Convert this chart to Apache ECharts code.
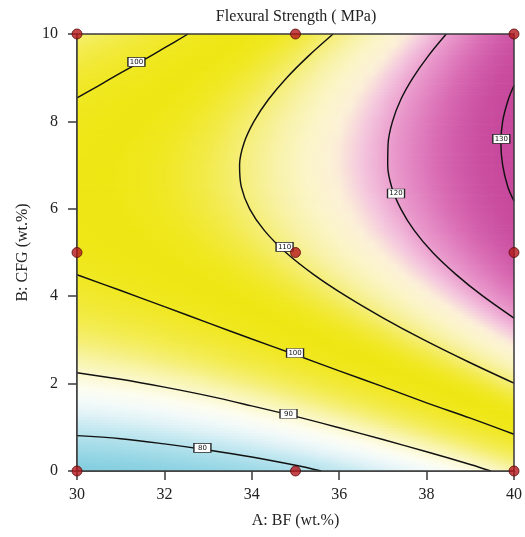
<!DOCTYPE html>
<html>
<head>
<meta charset="utf-8">
<script src="https://cdn.jsdelivr.net/npm/echarts@6/dist/echarts.min.js"></script>
<style>
html,body{margin:0;padding:0;background:#fff;}
#chart{width:525px;height:537px;}
</style>
</head>
<body>
<div id="chart"></div>
<script>
// Grid nodes (A: BF wt.%, B: CFG wt.%)
var bfValues = [30,30.5,31,31.5,32,32.5,33,33.5,34,34.5,35,35.5,36,36.5,37,37.5,38,38.5,39,39.5,40];
var cfgValues = [0,0.5,1,1.5,2,2.5,3,3.5,4,4.5,5,5.5,6,6.5,7,7.5,8,8.5,9,9.5,10];
// Flexural strength (MPa), one row per CFG value
var strengthGrid = [
[72.9,73.2,73.5,73.9,74.4,75.0,75.6,76.3,77.0,77.9,78.8,79.7,80.8,81.9,83.1,84.3,85.6,87.0,88.5,90.0,91.6],
[77.4,77.7,78.0,78.5,79.0,79.6,80.2,80.9,81.7,82.6,83.5,84.5,85.6,86.7,88.0,89.2,90.6,92.0,93.5,95.1,96.7],
[81.4,81.8,82.2,82.6,83.2,83.8,84.5,85.2,86.1,87.0,87.9,89.0,90.1,91.3,92.5,93.8,95.2,96.7,98.2,99.8,101.5],
[85.1,85.5,85.9,86.4,87.0,87.7,88.4,89.2,90.1,91.0,92.0,93.1,94.2,95.4,96.7,98.1,99.5,101.0,102.6,104.2,105.9],
[88.5,88.9,89.4,89.9,90.5,91.2,92.0,92.8,93.7,94.7,95.7,96.8,98.0,99.2,100.6,101.9,103.4,104.9,106.5,108.2,110.0],
[91.5,92.0,92.5,93.0,93.7,94.4,95.2,96.1,97.0,98.0,99.1,100.2,101.4,102.7,104.0,105.5,107.0,108.5,110.2,111.9,113.7],
[94.2,94.6,95.2,95.8,96.5,97.2,98.1,99.0,99.9,101.0,102.1,103.2,104.5,105.8,107.2,108.7,110.2,111.8,113.5,115.2,117.0],
[96.5,97.0,97.6,98.2,98.9,99.7,100.6,101.5,102.5,103.6,104.7,105.9,107.2,108.6,110.0,111.5,113.0,114.7,116.4,118.2,120.0],
[98.4,99.0,99.6,100.3,101.0,101.8,102.7,103.7,104.7,105.8,107.0,108.3,109.6,111.0,112.4,113.9,115.6,117.2,119.0,120.8,122.6],
[100.0,100.6,101.2,102.0,102.8,103.6,104.5,105.5,106.6,107.7,109.0,110.2,111.6,113.0,114.5,116.1,117.7,119.4,121.2,123.0,124.9],
[101.3,101.9,102.6,103.3,104.1,105.0,106.0,107.0,108.1,109.3,110.6,111.9,113.3,114.7,116.2,117.8,119.5,121.2,123.0,124.9,126.9],
[102.2,102.8,103.5,104.3,105.2,106.1,107.1,108.2,109.3,110.5,111.8,113.1,114.6,116.1,117.6,119.2,121.0,122.7,124.6,126.5,128.5],
[102.7,103.4,104.1,105.0,105.9,106.8,107.9,108.9,110.1,111.4,112.7,114.1,115.5,117.0,118.6,120.3,122.0,123.9,125.7,127.7,129.7],
[102.9,103.6,104.4,105.2,106.2,107.2,108.3,109.4,110.6,111.9,113.2,114.6,116.1,117.7,119.3,121.0,122.8,124.6,126.5,128.5,130.6],
[102.7,103.5,104.3,105.2,106.2,107.2,108.3,109.5,110.7,112.0,113.4,114.9,116.4,118.0,119.6,121.4,123.2,125.1,127.0,129.0,131.1],
[102.2,103.0,103.9,104.8,105.8,106.9,108.0,109.2,110.5,111.8,113.2,114.7,116.3,117.9,119.6,121.4,123.2,125.1,127.1,129.2,131.3],
[101.4,102.2,103.1,104.0,105.1,106.2,107.3,108.6,109.9,111.3,112.7,114.2,115.8,117.5,119.2,121.0,122.9,124.8,126.9,129.0,131.1],
[100.1,101.0,101.9,102.9,104.0,105.1,106.3,107.6,108.9,110.3,111.8,113.4,115.0,116.7,118.5,120.3,122.2,124.2,126.3,128.4,130.6],
[98.6,99.5,100.4,101.4,102.5,103.7,105.0,106.3,107.6,109.1,110.6,112.2,113.9,115.6,117.4,119.3,121.2,123.2,125.3,127.5,129.7],
[96.6,97.6,98.6,99.6,100.8,102.0,103.2,104.6,106.0,107.5,109.0,110.7,112.3,114.1,115.9,117.9,119.9,121.9,124.0,126.2,128.5],
[94.4,95.3,96.3,97.4,98.6,99.9,101.2,102.5,104.0,105.5,107.1,108.8,110.5,112.3,114.2,116.1,118.1,120.2,122.4,124.6,126.9]
];

// Contour lines [A, B]
var contour80  = [[30,0.81],[31,0.74],[32,0.62],[33,0.48],[34,0.32],[35,0.13],[35.59,0]];
var contour90  = [[30,2.25],[31,2.10],[32,1.92],[33,1.72],[34,1.49],[35,1.25],[36,0.99],[37,0.72],[38,0.44],[39,0.15],[39.47,0]];
var contour100Low = [[30,4.49],[31,4.13],[32,3.76],[33,3.39],[34,3.02],[35,2.66],[36,2.29],[37,1.93],[38,1.56],[39,1.21],[40,0.84]];
var contour100High = [[30,8.54],[30.5,8.82],[31,9.11],[31.5,9.39],[32,9.68],[32.54,10]];
var contour110 = [[35.86,10],[35.30,9.5],[34.80,9],[34.38,8.5],[34.05,8],[33.82,7.5],[33.72,7],[33.76,6.5],[33.95,6],[34.29,5.5],[34.78,5],[35.41,4.5],[36.16,4],[37.01,3.5],[37.94,3],[38.95,2.5],[40,2.01]];
var contour120 = [[38.45,10],[38.04,9.5],[37.69,9],[37.41,8.5],[37.22,8],[37.12,7.5],[37.11,7],[37.20,6.5],[37.41,6],[37.72,5.5],[38.14,5],[38.67,4.5],[39.29,4],[40,3.5]];
var contour130 = [[40,8.82],[39.87,8.5],[39.74,8],[39.70,7.5],[39.74,7],[39.86,6.5],[40,6.18]];

// Contour labels
var labelText = ['100','110','120','130','100','90','80'];
var labelA = [31.36,34.75,37.30,39.71,34.99,34.84,32.87];
var labelB = [9.36,5.13,6.35,7.60,2.70,1.31,0.53];

// Design points
var designA = [30,35,40,30,35,40,30,35,40];
var designB = [0,0,0,5,5,5,10,10,10];

// Colour scale (value range and colours, evenly spaced)
var scaleMin = 72, scaleMax = 136;
var scaleColors = [
  '#7ccbdd','#86cfe0','#93d5e4','#a2dbe8','#b3e2ec','#c9eaf2','#e2f3f7','#f3faf9',
  '#fdfdf0','#fbf8d0','#f8f4a8','#f5ef78','#f3ec50','#f1e935','#f0e822','#efe716',
  '#efe714','#f0e822','#f2ea45','#f5ee78','#f8f2a8','#fbf5c8','#fcf1d8','#f4c6de',
  '#eb9fce','#e284c1','#d96bb3','#d05aa8','#ca4ea0','#c7489c','#c6469b','#c5449a','#c4439a'
];

var nA = bfValues.length, nB = cfgValues.length;
var fieldData = [];
for (var j = 0; j < nB; j++) {
  for (var i = 0; i < nA; i++) {
    fieldData.push([bfValues[i], cfgValues[j], strengthGrid[j][i]]);
  }
}

function colourOf(v) {
  var t = (v - scaleMin) / (scaleMax - scaleMin);
  t = Math.max(0, Math.min(1, t));
  return echarts.color.lerp(t, scaleColors);
}

var STRIPS = 8;
function renderCell(params, api) {
  var idx = params.dataIndex;
  var i = idx % nA, j = Math.floor(idx / nA);
  if (i >= nA - 1 || j >= nB - 1) return null;
  var vBL = strengthGrid[j][i], vBR = strengthGrid[j][i + 1];
  var vTL = strengthGrid[j + 1][i], vTR = strengthGrid[j + 1][i + 1];
  var pBL = api.coord([bfValues[i], cfgValues[j]]);
  var pTR = api.coord([bfValues[i + 1], cfgValues[j + 1]]);
  var x = pBL[0], w = pTR[0] - pBL[0];
  var yBottom = pBL[1], h = pBL[1] - pTR[1];
  var children = [];
  for (var s = 0; s < STRIPS; s++) {
    var t = (s + 0.5) / STRIPS;
    var vl = vBL + (vTL - vBL) * t;
    var vr = vBR + (vTR - vBR) * t;
    var vm = (vl + vr) / 2;
    var y0 = yBottom - h * (s + 1) / STRIPS;
    children.push({
      type: 'rect',
      shape: { x: x, y: y0, width: w + 0.7, height: h / STRIPS + 0.7 },
      style: {
        fill: new echarts.graphic.LinearGradient(0, 0, 1, 0, [
          { offset: 0, color: colourOf(vl) },
          { offset: 0.5, color: colourOf(vm) },
          { offset: 1, color: colourOf(vr) }
        ]),
        stroke: null
      }
    });
  }
  return { type: 'group', children: children };
}

var labelData = labelText.map(function (t, k) { return [labelA[k], labelB[k], t]; });
var designData = designA.map(function (a, k) { return [a, designB[k]]; });

var serif = '"Liberation Serif", "DejaVu Serif", serif';

function contourSeries(data) {
  return {
    type: 'line', data: data, smooth: 0.35, showSymbol: false, symbol: 'none',
    silent: true, z: 3, clip: true,
    lineStyle: { color: '#111111', width: 1.45 }
  };
}

var chart = echarts.init(document.getElementById('chart'), null, { renderer: 'canvas' });
chart.setOption({
  animation: false,
  backgroundColor: '#ffffff',
  title: {
    text: 'Flexural Strength ( MPa)',
    left: 291, top: 4, textAlign: 'center',
    textStyle: { fontFamily: serif, fontWeight: 'normal', fontSize: 16, color: '#222' }
  },
  grid: {
    left: 77, right: 10, top: 34, bottom: 66,
    show: true, borderColor: '#3a3a3a', borderWidth: 1.5, backgroundColor: 'transparent', z: 4
  },
  xAxis: {
    type: 'value', min: 30, max: 40, interval: 2,
    name: 'A: BF (wt.%)', nameLocation: 'middle', nameGap: 42,
    nameTextStyle: { fontFamily: serif, fontSize: 16, color: '#222' },
    axisLine: { show: true, lineStyle: { color: '#3a3a3a', width: 1.5 } },
    axisTick: { show: true, inside: false, length: 9, lineStyle: { color: '#3a3a3a', width: 1.5 } },
    axisLabel: { fontFamily: serif, fontSize: 16, color: '#222', margin: 16 },
    splitLine: { show: false }
  },
  yAxis: {
    type: 'value', min: 0, max: 10, interval: 2,
    name: 'B: CFG (wt.%)', nameLocation: 'middle', nameGap: 46,
    nameTextStyle: { fontFamily: serif, fontSize: 16, color: '#222' },
    axisLine: { show: true, lineStyle: { color: '#3a3a3a', width: 1.5 } },
    axisTick: { show: true, inside: false, length: 9, lineStyle: { color: '#3a3a3a', width: 1.5 } },
    axisLabel: { fontFamily: serif, fontSize: 16, color: '#222', margin: 19 },
    splitLine: { show: false }
  },
  series: [
    {
      type: 'custom', data: fieldData, clip: true, silent: true, z: 1,
      encode: { x: 0, y: 1 },
      renderItem: renderCell
    },
    contourSeries(contour80),
    contourSeries(contour90),
    contourSeries(contour100Low),
    contourSeries(contour100High),
    contourSeries(contour110),
    contourSeries(contour120),
    contourSeries(contour130),
    {
      type: 'scatter', data: labelData, symbol: 'rect', symbolSize: [17, 9], z: 5, silent: true,
      itemStyle: { color: '#ffffff', borderColor: '#222', borderWidth: 1, opacity: 1 },
      label: {
        show: true, position: 'inside', fontSize: 7, color: '#111', fontFamily: 'DejaVu Sans',
        formatter: function (p) { return p.data[2]; }
      }
    },
    {
      type: 'scatter', data: designData, symbol: 'circle', symbolSize: 10, z: 6, clip: false, silent: true,
      itemStyle: { color: '#b3161c', borderColor: '#5a0a0a', borderWidth: 1 }
    }
  ]
});
</script>
</body>
</html>
